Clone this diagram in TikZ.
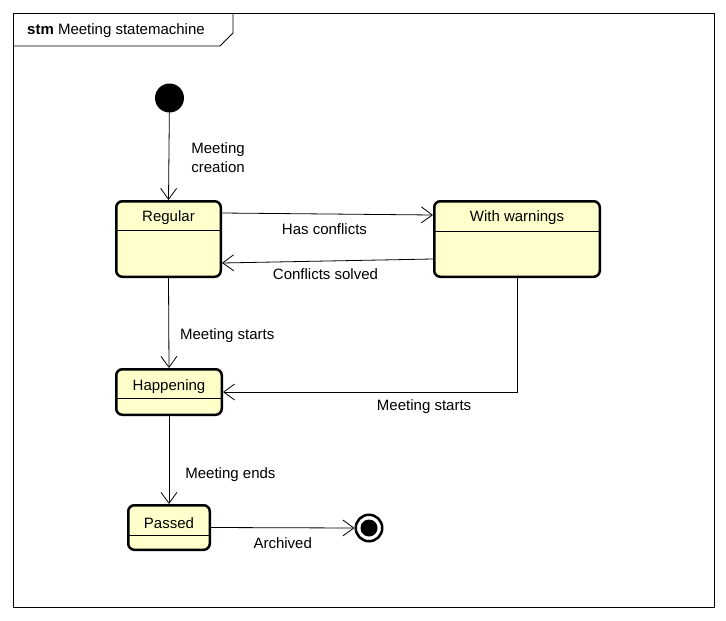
\documentclass[tikz,border=0pt]{standalone}
\usepackage{fontspec}
\setmainfont{Liberation Sans}
\usetikzlibrary{arrows.meta}
\definecolor{stateyellow}{RGB}{255,255,204}
\tikzstyle{state} = [
    rectangle,
    rounded corners=6pt,
    line width=2.5pt,
    draw=black,
    fill=stateyellow,
    inner sep=0pt
]
\tikzstyle{divider} = [line width=0.8pt]
\tikzstyle{pseudostate} = [
    circle,
    inner sep=0pt,
    fill=black
]
\tikzstyle{arrow} = [line width=0.8pt,-{Straight Barb[length=11pt,width=16pt]}]
\tikzstyle{guard} = [inner sep=0pt]

\begin{document}
\begin{tikzpicture}[x=1pt,y=-1pt,font=\fontsize{15}{19}\selectfont]

\useasboundingbox (0,0) rectangle (726,621);

% frame
\draw [line width=0.8pt] (13,13) rectangle (714,607);
\draw [line width=0.8pt] (13,46) -- (220,46) -- (233,33) -- (233,13);
\node (frametitle) [guard, anchor=west] at (27,31) {\textbf{stm} Meeting statemachine};

\node (init) [pseudostate, minimum size=29pt] at (169.5,98) {};

\node (regular) [state, minimum width=104.5pt, minimum height=75.5pt] at (168.5,239) {};
\node (regularname) at ([yshift=-18pt]regular.north) {Regular};
\draw [divider] ([yshift=-30pt]regular.north west) -- ([yshift=-30pt]regular.north east);

\node (warnings) [state, minimum width=165.5pt, minimum height=75.5pt] at (517,239) {};
\node (warningsname) at ([yshift=-18pt]warnings.north) {With warnings};
\draw [divider] ([yshift=-31pt]warnings.north west) -- ([yshift=-31pt]warnings.north east);

\node (happening) [state, minimum width=105.5pt, minimum height=45.5pt] at (169,392) {};
\node (happeningname) at ([yshift=-19pt]happening.north) {Happening};
\draw [divider] ([yshift=-30pt]happening.north west) -- ([yshift=-30pt]happening.north east);

\node (passed) [state, minimum width=81.5pt, minimum height=44.5pt] at (169,527.5) {};
\node (passedname) at ([yshift=-19pt]passed.north) {Passed};
\draw [divider] ([yshift=-31pt]passed.north west) -- ([yshift=-31pt]passed.north east);

\node (final) [circle, draw=black, line width=2.5pt, fill=white, minimum size=26.5pt, inner sep=0pt] at (369,528) {};
\node (finaldot) [pseudostate, minimum size=17pt] at (final.center) {};

% transitions
\draw [arrow] (init) -- (regular.north)
    node [guard, midway, anchor=west, xshift=22pt, yshift=-1pt, align=left] {Meeting\\creation};
\draw [arrow] ([yshift=26pt]regular.east) -- ([yshift=24pt]warnings.west)
    node [guard, midway, xshift=-3pt, yshift=-15pt] {Has conflicts};
\draw [arrow] ([yshift=-20pt]warnings.west) -- ([yshift=-24pt]regular.east)
    node [guard, midway, xshift=-2pt, yshift=-13pt] {Conflicts solved};
\draw [arrow] (regular.south) -- (happening.north)
    node [guard, midway, anchor=west, xshift=11pt, yshift=-13pt] {Meeting starts};
\draw [arrow] (warnings.south) |- (happening.east)
    node [guard, pos=0.658, yshift=-15pt] {Meeting starts};
\draw [arrow] (happening.south) -- (passed.north)
    node [guard, midway, anchor=west, xshift=16pt, yshift=-15pt] {Meeting ends};
\draw [arrow] (passed.east) -- (final.west)
    node [guard, midway, yshift=-15pt] {Archived};

\end{tikzpicture}
\end{document}
